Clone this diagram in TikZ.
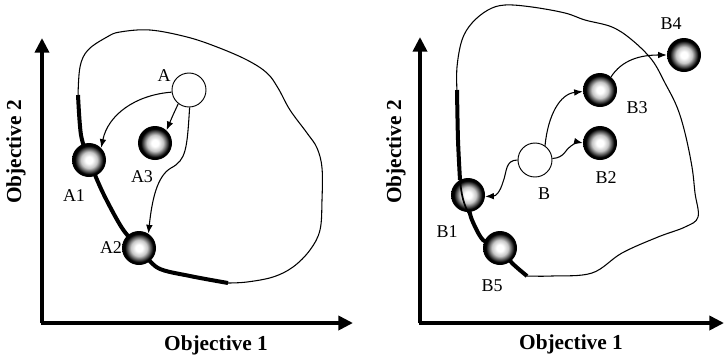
\documentclass[tikz,border=0pt]{standalone}
\usepackage{fontspec}
\setmainfont{Liberation Serif}
\usetikzlibrary{arrows.meta}
\pgfdeclareradialshading{ballshade}{\pgfpoint{0bp}{0bp}}{%
  color(0bp)=(white); color(5bp)=(white); color(12bp)=(gray!45);
  color(21bp)=(black); color(50bp)=(black)}
\begin{document}
\begin{tikzpicture}[x=0.75pt,y=-0.75pt,
  axis/.style={line width=3pt,-{Triangle[length=11pt,width=10.5pt]}},
  front/.style={line width=3pt},
  outline/.style={line width=0.8pt},
  move/.style={line width=0.8pt,-{Latex[length=6.5pt,width=5pt]}},
  ball/.style={circle,inner sep=0pt,minimum size=25.5pt,shade,shading=ballshade},
  start/.style={circle,inner sep=0pt,minimum size=25.5pt,draw,line width=0.7pt,fill=white},
  lbl/.style={font=\fontsize{13.5}{15}\selectfont},
  axlbl/.style={font=\fontsize{16}{19}\selectfont\bfseries}]
\useasboundingbox (0,0) rectangle (725,358);

% ---------- left panel ----------
\draw[axis] (42,323) -- (42,38);
\draw[axis] (40.9,323) -- (353,323);
\node[axlbl] (xl1) at (216,345) {Objective 1};
\node[axlbl,rotate=90] (yl1) at (16,152) {Objective 2};

% feasible region outline
\draw[outline] plot[smooth,tension=0.6] coordinates {
  (78,97) (80,67) (88,50) (107,37) (120,32) (150,30) (187,37) (217,47)
  (247,60) (267,73) (278,88) (290,110) (307,133) (317,148) (322,168)
  (322,200) (320,230) (310,250) (293,267) (273,277) (247,282) (228,283)};
% non-dominated front
\draw[front] plot[smooth,tension=0.5] coordinates {
  (78,95) (81,135) (89,160) (103,193) (122,228) (139,248) (158,268)
  (190,276) (228,283)};

\node[start] (A) at (189,90) {};
\node[ball] (A1) at (89,160) {};
\node[ball] (A2) at (139,248) {};
\node[ball] (A3) at (155,143) {};

\draw[move] (A.187) .. controls (135,95) and (108,115) .. (A1.45);
\draw[move] (A.232) .. controls (173,115) .. (A3.48);
\draw[move] (A.272) .. controls (187,150) and (186,160) .. (171,168)
  .. controls (157,176) and (152,200) .. (A2.57);

\node[lbl] (lA) at (164,76) {A};
\node[lbl] (lA1) at (74,196) {A1};
\node[lbl] (lA2) at (111,248) {A2};
\node[lbl] (lA3) at (142,177) {A3};

% ---------- right panel ----------
\draw[axis] (420,323) -- (420,37);
\draw[axis] (418.9,323) -- (724,323);
\node[axlbl] (xl2) at (571,344) {Objective 1};
\node[axlbl,rotate=90] (yl2) at (396,152) {Objective 2};

\draw[outline] plot[smooth,tension=0.6] coordinates {
  (457,92) (457,67) (462,40) (472,23) (488,10) (505,5) (532,7) (565,13)
  (585,20) (612,27) (632,40) (652,60) (665,83) (677,107) (685,133)
  (692,167) (695,193) (698,217) (685,227) (658,237) (622,253) (592,273)
  (552,276) (527,276)};
\draw[front] plot[smooth,tension=0.5] coordinates {
  (457,90) (458,140) (460,180)};
\draw[front] plot[smooth,tension=0.5] coordinates {
  (468,205) (472,220) (483,240) (500,248) (512,263) (527,276)};

\node[start] (B) at (535,160) {};
\node[ball] (B1) at (468,195) {};
\node[ball] (B5) at (500,248) {};
\node[ball] (B2) at (600,143) {};
\node[ball] (B3) at (600,90) {};
\node[ball] (B4) at (684,55) {};

% front line running across B1
\draw[line width=1.3pt] (460,178) .. controls (461,195) and (464,205) .. (469,214);

\draw[move] (B.180) .. controls (505,160) and (507,172) .. (503,182)
  .. controls (500,192) and (496,196) .. (B1.355);
\draw[move] (B.5) .. controls (565,158) and (566,148) .. (571,146)
  .. controls (575,143) and (578,142) .. (B2.180);
\draw[move] (B.55) .. controls (548,115) and (560,94) .. (B3.185);
\draw[move] (B3.50) .. controls (622,60) and (640,55) .. (B4.180);

\node[lbl] (lB) at (544,194) {B};
\node[lbl] (lB1) at (447,232) {B1};
\node[lbl] (lB5) at (492,286) {B5};
\node[lbl] (lB2) at (606,178) {B2};
\node[lbl] (lB3) at (637,108) {B3};
\node[lbl] (lB4) at (671,24) {B4};
\end{tikzpicture}
\end{document}
